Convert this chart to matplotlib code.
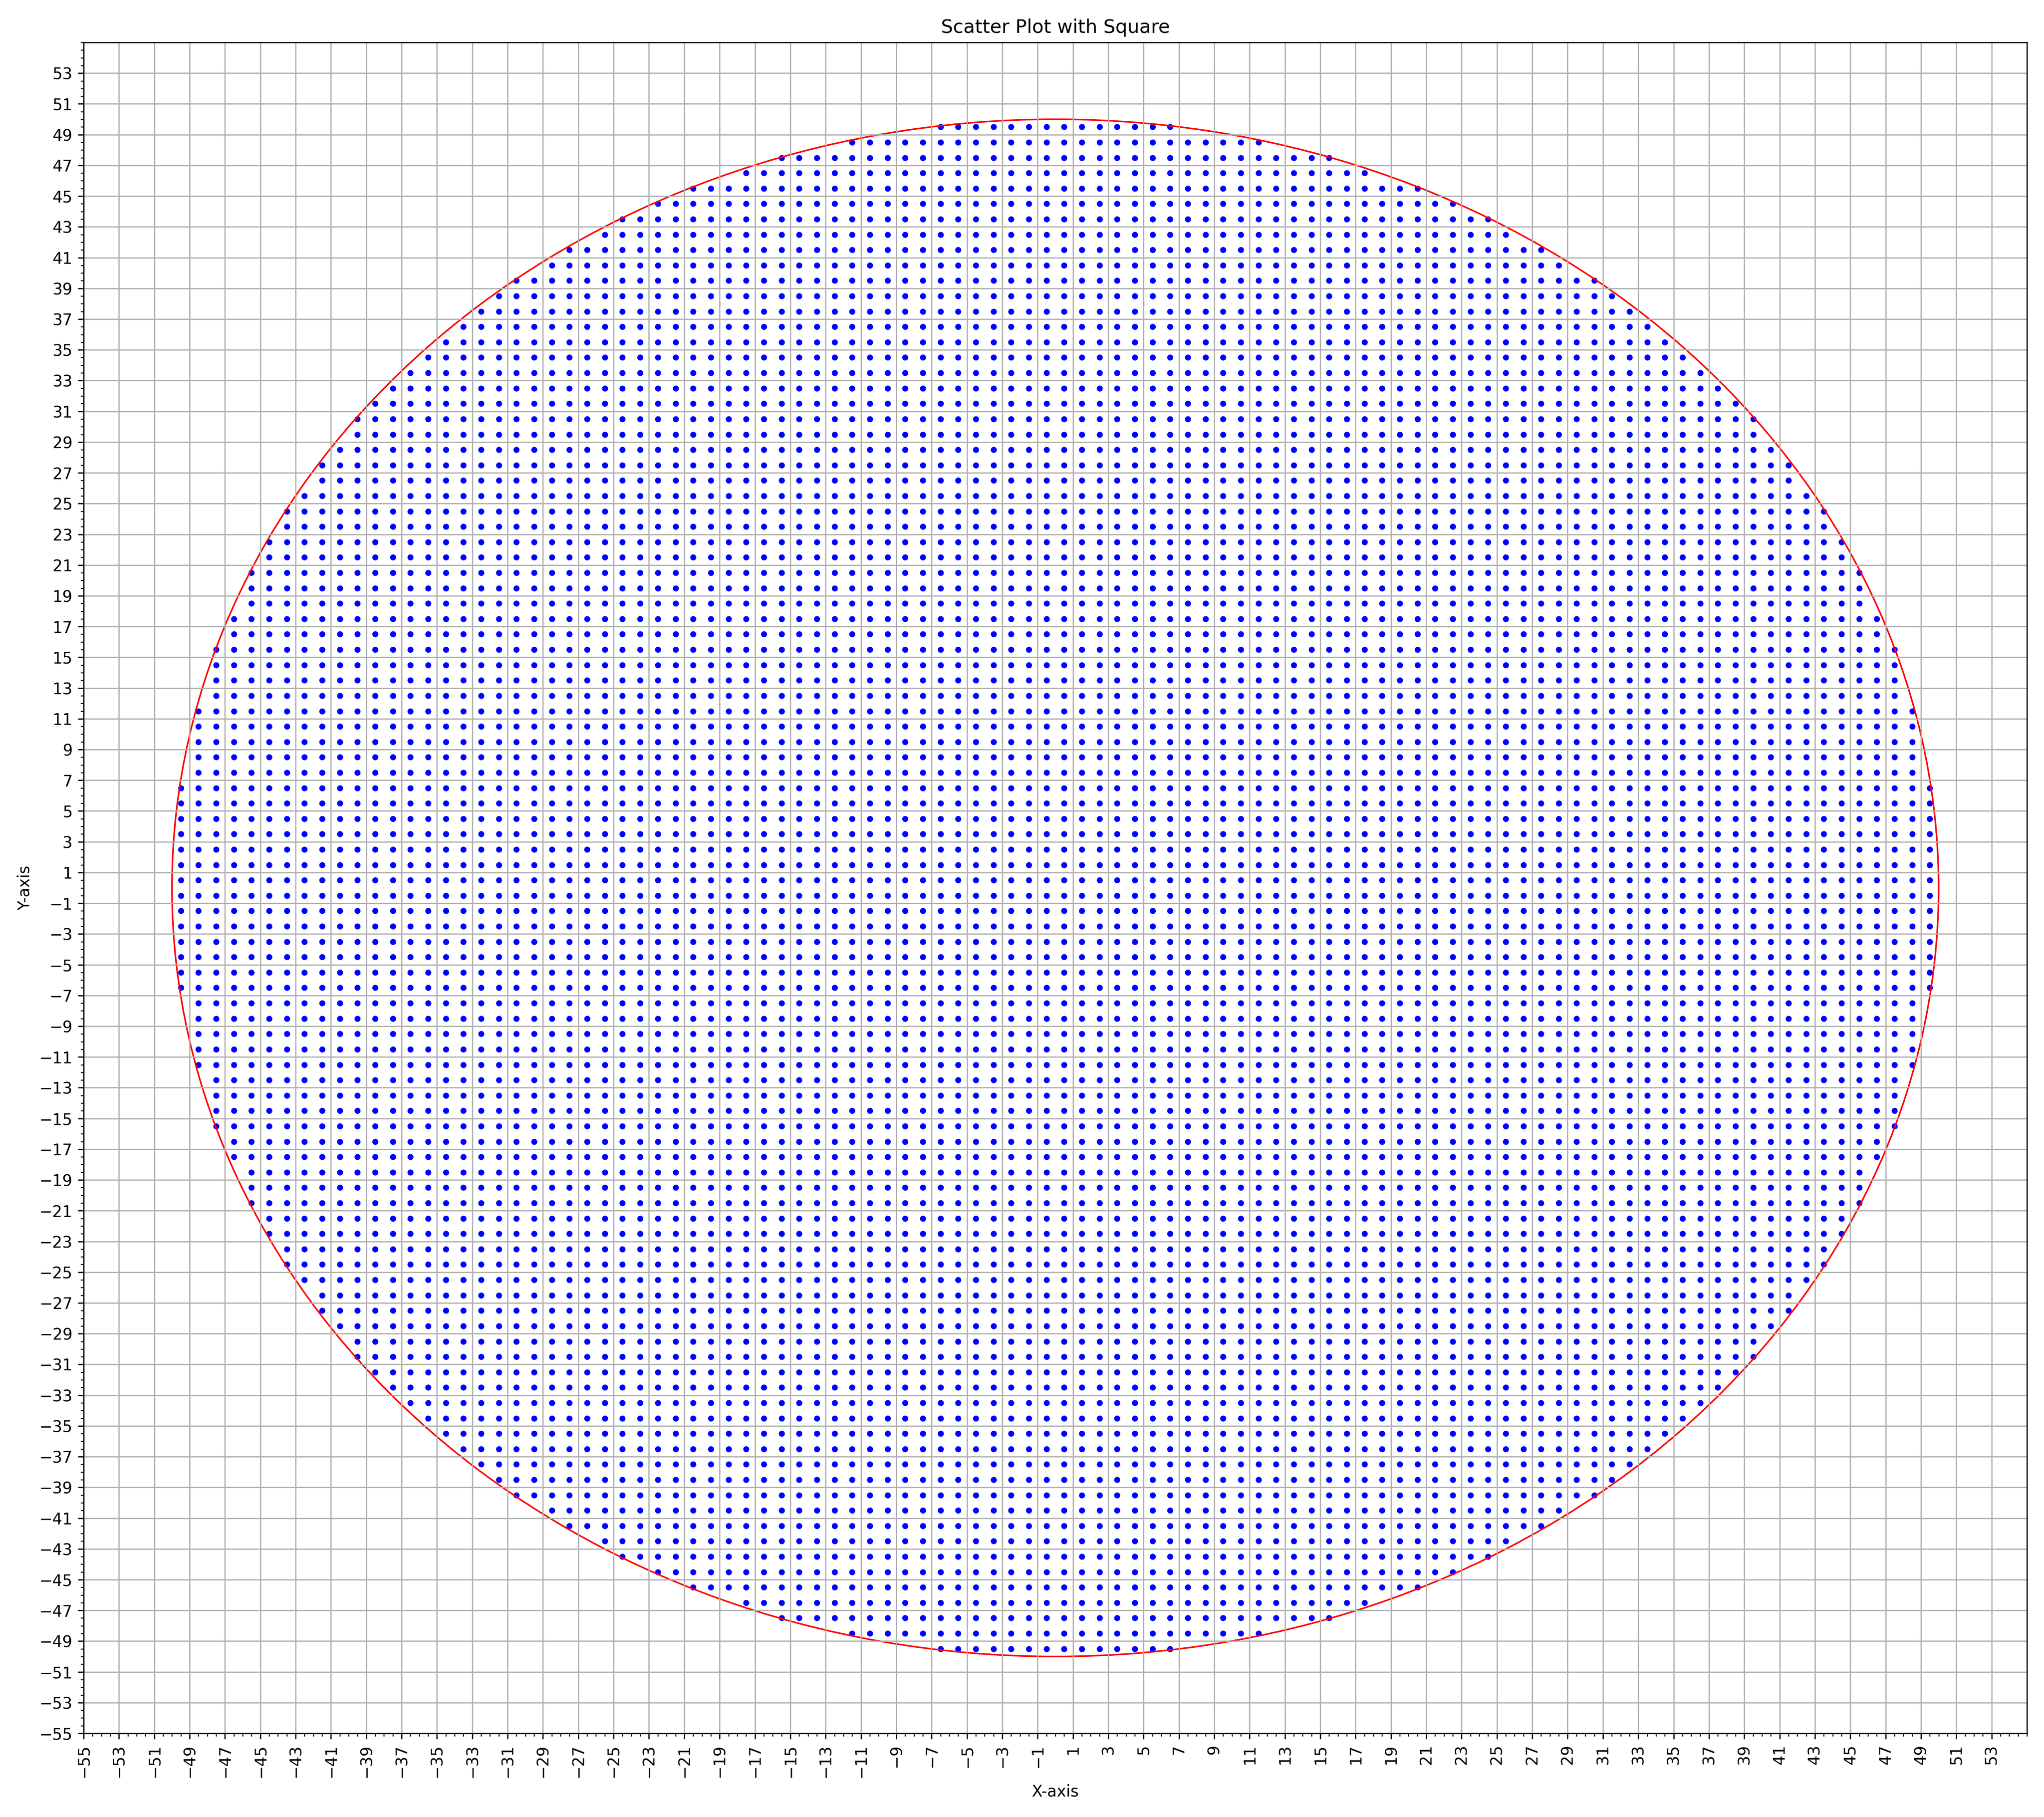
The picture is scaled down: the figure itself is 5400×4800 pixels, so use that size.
import numpy as np
import matplotlib.pyplot as plt

# circle and the grid of points inside it
radius = 50
row_y = [0.5, 1.5, 2.5, 3.5, 4.5, 5.5, 6.5, 7.5, 8.5, 9.5,
         10.5, 11.5, 12.5, 13.5, 14.5, 15.5, 16.5, 17.5, 18.5, 19.5,
         20.5, 21.5, 22.5, 23.5, 24.5, 25.5, 26.5, 27.5, 28.5, 29.5,
         30.5, 31.5, 32.5, 33.5, 34.5, 35.5, 36.5, 37.5, 38.5, 39.5,
         40.5, 41.5, 42.5, 43.5, 44.5, 45.5, 46.5, 47.5, 48.5, 49.5]
# outermost |x| of the dots in each row (same above and below zero)
half_width = [49.5, 49.5, 49.5, 49.5, 49.5, 49.5, 49.5, 48.5, 48.5, 48.5,
              48.5, 48.5, 47.5, 47.5, 47.5, 47.5, 46.5, 46.5, 45.5, 45.5,
              45.5, 44.5, 44.5, 43.5, 43.5, 42.5, 41.5, 41.5, 40.5, 39.5,
              39.5, 38.5, 37.5, 36.5, 35.5, 34.5, 33.5, 32.5, 31.5, 30.5,
              28.5, 27.5, 25.5, 24.5, 22.5, 20.5, 17.5, 15.5, 11.5, 6.5]

px = []
py = []
for y, w in zip(row_y, half_width):
    xs = np.arange(-w, w + 0.5, 1.0)
    for sgn in (1, -1):
        px.extend(xs)
        py.extend([sgn * y] * len(xs))

fig, ax = plt.subplots(figsize=(18, 16))

ax.scatter(px, py, color='blue', s=8)
circ = plt.Circle((0, 0), radius, color='red', fill=False, lw=1.0)
ax.add_patch(circ)

ax.set_xlim(-55, 55)
ax.set_ylim(-55, 55)
ax.set_xticks(np.arange(-55, 55, 2))
ax.set_yticks(np.arange(-55, 55, 2))
ax.set_xticks(np.arange(-55, 55.1, 0.5), minor=True)
ax.set_yticks(np.arange(-55, 55.1, 0.5), minor=True)
plt.xticks(rotation=90)
ax.grid(True)

plt.xlabel("X-axis")
plt.ylabel("Y-axis")
plt.title("Scatter Plot with Square")
plt.tight_layout()
plt.savefig("out.png", dpi=300)
